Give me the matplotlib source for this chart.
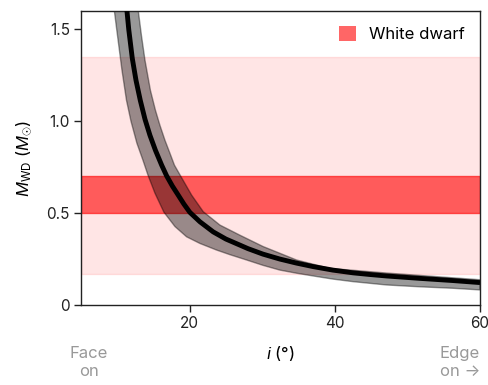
import numpy as np
import matplotlib
matplotlib.use("Agg")
import matplotlib.pyplot as plt
from matplotlib.patches import Patch

plt.rcParams['font.family'] = ['Inter', 'DejaVu Sans']
plt.rcParams['mathtext.fontset'] = 'custom'
plt.rcParams['mathtext.rm'] = 'Inter'
plt.rcParams['mathtext.it'] = 'Inter:italic'

# Inclination (deg) and white-dwarf mass (Msun) along the median solution
inc_mid = [11.23, 11.34, 11.58, 12.07, 12.58, 13.17, 13.82, 14.50, 15.26, 16.12,
           16.80, 17.60, 18.40, 19.19, 20.01, 21.39, 23.22, 24.97, 26.90, 28.00,
           30.07, 32.41, 34.71, 37.00, 39.71, 42.51, 44.81, 47.11, 51.69, 56.28,
           60.0]
mass_mid = [1.658, 1.598, 1.500, 1.342, 1.223, 1.114, 1.011, 0.924, 0.842, 0.761,
            0.703, 0.647, 0.598, 0.549, 0.504, 0.453, 0.398, 0.359, 0.326, 0.307,
            0.277, 0.250, 0.228, 0.209, 0.190, 0.175, 0.166, 0.158, 0.145, 0.133,
            0.122]

# Lower boundary of the uncertainty region
inc_lo = [9.46, 9.59, 9.92, 10.65, 11.27, 11.89, 12.71, 13.54, 14.23, 15.19,
          16.43, 17.95, 19.56, 21.39, 23.69, 25.52, 27.82, 30.07, 32.41, 34.71,
          37.00, 39.71, 42.51, 47.11, 51.69, 56.28, 60.0]
mass_lo = [1.658, 1.603, 1.500, 1.277, 1.114, 1.000, 0.880, 0.788, 0.707, 0.609,
           0.505, 0.427, 0.371, 0.335, 0.299, 0.274, 0.245, 0.216, 0.190, 0.173,
           0.158, 0.141, 0.127, 0.109, 0.099, 0.091, 0.082]

# Upper boundary of the uncertainty region
inc_hi = [12.80, 12.89, 13.33, 13.82, 14.57, 15.26, 15.88, 16.57, 17.26, 17.88,
          18.91, 20.25, 21.85, 24.15, 26.90, 30.11, 34.71, 39.30, 42.51, 47.11,
          51.69, 56.28, 60.0]
mass_hi = [1.658, 1.603, 1.467, 1.332, 1.168, 1.060, 0.978, 0.897, 0.826, 0.761,
           0.690, 0.598, 0.508, 0.435, 0.380, 0.318, 0.245, 0.199, 0.189, 0.174,
           0.161, 0.148, 0.1375]

# White-dwarf mass ranges (Msun)
wd_wide = (0.17, 1.35)
wd_core = (0.5, 0.7)

x_ticks = [20, 40, 60]
y_ticks = [0, 0.5, 1.0, 1.5]
y_tick_labels = ['0', '0.5', '1.0', '1.5']

fig = plt.figure(figsize=(4.88, 3.85), dpi=100)
ax = fig.add_axes([0.166, 0.2078, 0.8176, 0.7636])

ax.axhspan(*wd_wide, color='red', alpha=0.1, lw=1, zorder=1)
ax.axhspan(*wd_core, color='red', alpha=0.6, lw=1, zorder=1)

poly_x = np.concatenate([inc_lo, inc_hi[::-1]])
poly_y = np.concatenate([mass_lo, mass_hi[::-1]])
ax.fill(poly_x, poly_y, facecolor=(0, 0, 0, 0.4), edgecolor=(0, 0, 0, 0.4),
        lw=1.0, zorder=2)
ax.plot(inc_mid, mass_mid, color='black', lw=3.5, solid_capstyle='butt',
        solid_joinstyle='round', zorder=3)

ax.set_xlim(5, 60)
ax.set_ylim(0, 1.6)
ax.set_xticks(x_ticks)
ax.set_yticks(y_ticks)
ax.set_yticklabels(y_tick_labels)
ax.tick_params(direction='out', length=5, width=1, labelsize=11, colors='#222222', pad=3)
for s in ax.spines.values():
    s.set_linewidth(1.0)
    s.set_color('#222222')

ax.set_ylabel(r'$M_{\rm WD}$ ($M_{\odot}$)', fontsize=12, labelpad=9)
ax.set_xlabel(r'$i$ (°)', fontsize=12, labelpad=9)

ax.text(0.02, -0.14, 'Face\non', transform=ax.transAxes, ha='center', va='top',
        fontsize=12, color='#999999', linespacing=1.25)
ax.text(0.95, -0.14, 'Edge\non →', transform=ax.transAxes, ha='center', va='top',
        fontsize=12, color='#999999', linespacing=1.25)

handle = Patch(facecolor='red', alpha=0.6, edgecolor='none')
ax.legend([handle], ['White dwarf'], loc='upper right', frameon=False, fontsize=12,
          handlelength=1.0, handleheight=1.0, borderaxespad=0.5, handletextpad=0.8)

fig.savefig('out.png', dpi=100)
